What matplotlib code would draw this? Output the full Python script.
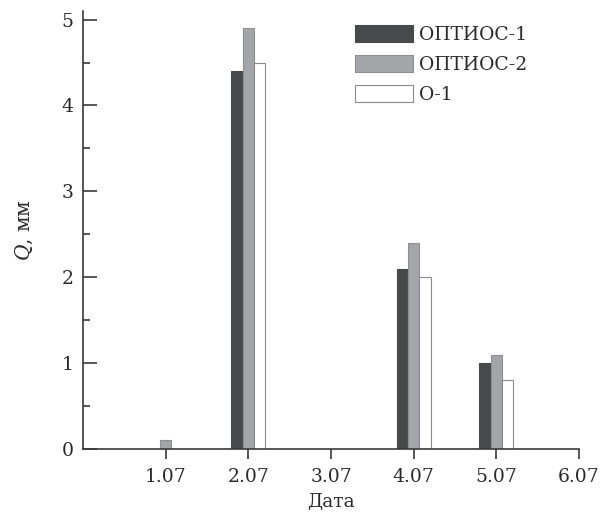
import matplotlib
matplotlib.use("Agg")
import matplotlib.pyplot as plt
import numpy as np
from matplotlib.ticker import MultipleLocator

categories = ["1.07", "2.07", "3.07", "4.07", "5.07", "6.07"]
optios1 = [0.0, 4.4, 0.0, 2.1, 1.0, 0.0]
optios2 = [0.1, 4.9, 0.0, 2.4, 1.1, 0.0]
o1 = [0.0, 4.5, 0.0, 2.0, 0.8, 0.0]
series_names = ["ОПТИОС-1", "ОПТИОС-2", "О-1"]

plt.rcParams['font.family'] = ['DejaVu Serif']
plt.rcParams['mathtext.fontset'] = 'dejavuserif'
txtc = '#2a2a2a'
plt.rcParams['text.color'] = txtc
plt.rcParams['axes.labelcolor'] = txtc
plt.rcParams['xtick.labelcolor'] = txtc
plt.rcParams['ytick.labelcolor'] = txtc

fig = plt.figure(figsize=(6.08, 5.12), dpi=100)
ax = fig.add_axes([83/608, 1-449/512, (579-83)/608, (449-11)/512])

x = np.arange(1, len(categories) + 1)
w = 0.137
axc = '#3a3a3a'
def draw(vals, off, fc, ec, label):
    v = np.array(vals, dtype=float)
    v[v == 0] = np.nan
    ax.bar(x + off, v, width=w, color=fc, edgecolor=ec, linewidth=0.8, label=label)

draw(optios1, -w, '#48494b', '#48494b', series_names[0])
draw(optios2, 0, '#a4a5a9', '#8e8f93', series_names[1])
draw(o1, w, '#ffffff', '#8a8a8a', series_names[2])

ax.set_xlim(0, 6)
ax.set_ylim(0, 5.1)
ax.set_xticks(x)
ax.set_xticklabels(categories)
ax.yaxis.set_major_locator(MultipleLocator(1))
ax.yaxis.set_minor_locator(MultipleLocator(0.5))

for s in ['top', 'right']:
    ax.spines[s].set_visible(False)
for s in ['left', 'bottom']:
    ax.spines[s].set_linewidth(1.2)
    ax.spines[s].set_color(axc)

fs = 13.5
ax.tick_params(axis='y', which='major', direction='in', length=10, width=1.2, color=axc, pad=7, labelsize=fs)
ax.tick_params(axis='y', which='minor', direction='in', length=5, width=1.2, color=axc)
ax.tick_params(axis='x', which='major', direction='out', length=7.5, width=1.2, color=axc, pad=6, labelsize=fs)
ax.tick_params(axis='x', which='minor', bottom=False)

ax.set_xlabel("Дата", fontsize=fs, labelpad=5)
ax.set_ylabel("$Q$, мм", fontsize=14.5, labelpad=19)

ax.legend(loc='upper left', bbox_to_anchor=(0.548, 0.969), frameon=False,
          fontsize=fs, handlelength=3.1, handleheight=1.05, labelspacing=0.58,
          handletextpad=0.35, borderpad=0, borderaxespad=0)

fig.savefig("out.png", dpi=100)
